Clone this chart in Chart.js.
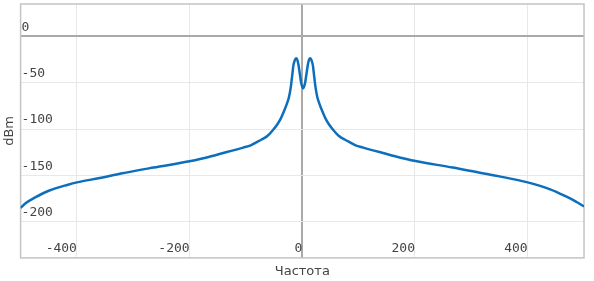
<!DOCTYPE html>
<html>
<head>
<meta charset="utf-8">
<script src="https://cdn.jsdelivr.net/npm/chart.js@4"></script>
<style>
  html, body { margin: 0; padding: 0; background: #fff; }
  #wrap { width: 594px; height: 281px; }
</style>
</head>
<body>
<div id="wrap"><canvas id="chart"></canvas></div>
<script>
// frequency (x) and power in dBm (y)
const freq = [-500, -490, -475, -450, -416, -400, -357, -322, -264, -198, -160, -142, -126, -105, -91.5, -82.5, -73, -62,
              -53.5, -44.5, -38.5, -32, -27, -23.5, -20.5, -17.5, -16, -13.5, -11, -9, -7, -4.5, -2, 1.5,
              5, 7.5, 10, 12, 14, 16.5, 19, 20.5, 23.5, 26.5, 30, 35, 41.5, 47.5, 56.5,
              65, 76, 85.5, 94.5, 108, 129, 145, 163, 201, 267, 292, 350, 400, 440, 469, 485, 500];
const power = [-185, -179.5, -174, -166.5, -160, -157.5, -152.5, -148, -141.5, -134.5, -129, -126, -123.5, -120, -117.5, -114.5, -111.5, -107.5,
               -102, -95, -89, -80, -72, -65, -55, -40, -32, -26, -23.5, -25, -30, -40, -50, -56,
               -50, -40, -30, -25, -23.5, -26, -32, -40, -55, -65, -72, -80, -89, -95, -102,
               -107.5, -111.5, -114.5, -117.5, -120, -123.5, -126, -129, -134.5, -141.5, -144.5, -151, -157.5, -165, -173, -178, -183.5];

const xTickValues = [-400, -200, 0, 200, 400];
const yTickValues = [-200, -150, -100, -50, 0];
const xTitle = 'Частота';
const yTitle = 'dBm';

const tickFont = { family: 'DejaVu Sans Mono', size: 13 };
const titleFont = { family: 'DejaVu Sans', size: 13 };

function gridColor(ctx) {
    return (ctx.tick && ctx.tick.value === 0) ? '#a9a9a9' : '#e8e8e8';
}
function gridWidth(ctx) {
    return (ctx.tick && ctx.tick.value === 0) ? 2 : 1;
}

// frame around the plot area (all four sides)
const framePlugin = {
    id: 'frame',
    beforeDatasetsDraw(chart) {
        const a = chart.chartArea;
        const c = chart.ctx;
        c.save();
        c.strokeStyle = '#c4c4c4';
        c.lineWidth = 1.5;
        c.strokeRect(a.left, a.top, a.right - a.left, a.bottom - a.top);
        c.restore();
    }
};

new Chart(document.getElementById('chart'), {
    type: 'scatter',
    data: {
        datasets: [{
            data: freq.map((f, i) => ({ x: f, y: power[i] })),
            showLine: true,
            borderColor: '#0c6fbd',
            borderWidth: 2.5,
            pointRadius: 0,
            cubicInterpolationMode: 'monotone'
        }]
    },
    options: {
        responsive: true,
        maintainAspectRatio: false,
        animation: false,
        layout: { padding: { top: 4, right: 10, left: 0, bottom: 0 } },
        plugins: { legend: { display: false }, tooltip: { enabled: false } },
        scales: {
            x: {
                type: 'linear',
                min: -500,
                max: 500,
                afterBuildTicks: (scale) => { scale.ticks = xTickValues.map(v => ({ value: v })); },
                border: { display: false },
                grid: { color: gridColor, lineWidth: gridWidth, drawTicks: false },
                ticks: { mirror: true, align: 'end', padding: 1, font: tickFont, color: '#444', maxRotation: 0, autoSkip: false },
                title: { display: true, text: xTitle, font: titleFont, color: '#444', padding: { top: 3.5, bottom: 2 } }
            },
            y: {
                type: 'linear',
                min: -239,
                max: 35,
                afterBuildTicks: (scale) => { scale.ticks = yTickValues.map(v => ({ value: v })); },
                afterFit: (scale) => { scale.paddingTop = 0; scale.paddingBottom = 0; },
                border: { display: false },
                grid: { color: gridColor, lineWidth: gridWidth, drawTicks: false },
                ticks: { mirror: true, padding: 1, labelOffset: -9, font: tickFont, color: '#444', autoSkip: false },
                title: { display: true, text: yTitle, font: titleFont, color: '#444', padding: { top: 2, bottom: 1 } }
            }
        }
    },
    plugins: [framePlugin]
});
</script>
</body>
</html>
